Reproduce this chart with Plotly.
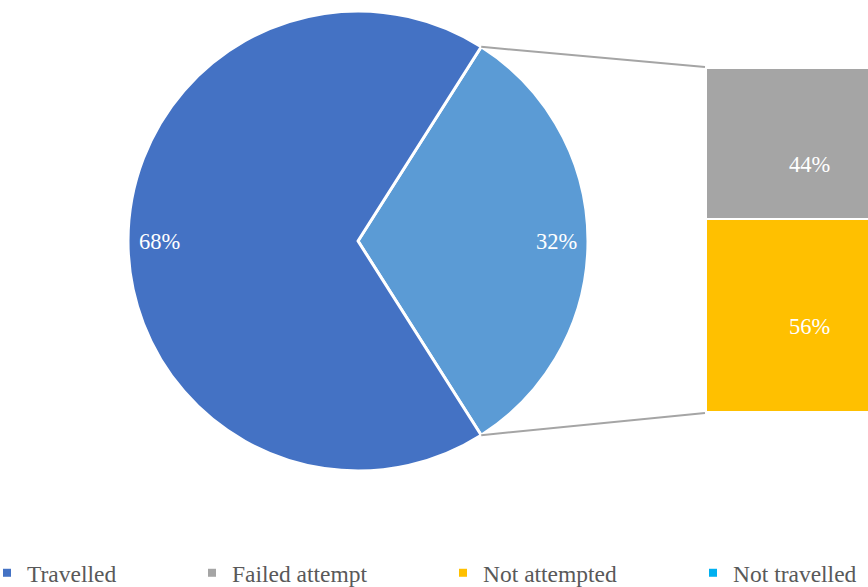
import math
import plotly.graph_objects as go

# ---- data ----
pie_labels = ["Travelled", "Other"]
pie_values = [68, 32]
bar_labels = ["Not attempted", "Failed attempt"]
bar_values = [56, 44]
legend_labels = ["Travelled", "Failed attempt", "Not attempted", "Not travelled"]

# ---- styles ----
pie_colors = ["#4472C4", "#5B9BD5"]
bar_colors = {"Not attempted": "#FFC000", "Failed attempt": "#A5A5A5"}
legend_colors = ["#4472C4", "#A5A5A5", "#FFC000", "#00B0F0"]
FONT = "Liberation Serif"
LABEL_SIZE = 22.5
LEGEND_SIZE = 23.5

W, H = 868, 587
PIE_CX, PIE_CY, PIE_R = 358, 241, 230          # pixel layout of the pie
BAR_X0, BAR_Y0, BAR_Y1 = 706, 68, 412            # pixel layout of the bar
BAR_LABEL_YSHIFT = [-11, -21]                    # label offsets (px) per bar segment
LEGEND_TEXT_X = [27, 232, 483, 733]              # legend text start positions (px)
LEGEND_Y = 573

def pxx(px):
    return px / W

def pxy(py):
    return (H - py) / H

pie_dom_x = [pxx(PIE_CX - PIE_R), pxx(PIE_CX + PIE_R)]
pie_dom_y = [pxy(PIE_CY + PIE_R), pxy(PIE_CY - PIE_R)]
bar_dom_x = [pxx(BAR_X0), 1.0]
bar_dom_y = [pxy(BAR_Y1), pxy(BAR_Y0)]

total = sum(pie_values)
other_idx = pie_labels.index("Other")
other_frac = pie_values[other_idx] / total
rotation = 90 - other_frac * 360 / 2   # centre the "Other" slice at 3 o'clock

order = [other_idx] + [i for i in range(len(pie_labels)) if i != other_idx]
labels_o = [pie_labels[i] for i in order]
values_o = [pie_values[i] for i in order]
colors_o = [pie_colors[i] for i in order]

fig = go.Figure()
fig.add_trace(go.Pie(
    labels=labels_o, values=values_o, sort=False, direction="clockwise",
    rotation=rotation, domain=dict(x=pie_dom_x, y=pie_dom_y),
    marker=dict(colors=colors_o, line=dict(color="white", width=3)),
    textinfo="none", hoverinfo="label+percent", showlegend=False,
))

bar_range = [-0.5, 0.281]
ysum = sum(bar_values)
annotations = []
base = 0
for lab, v, ys in zip(bar_labels, bar_values, BAR_LABEL_YSHIFT):
    fig.add_trace(go.Bar(
        x=[0], y=[v], width=1, name=lab,
        marker=dict(color=bar_colors[lab], line=dict(color="white", width=2)),
        showlegend=False, hoverinfo="name+y",
    ))
    annotations.append(dict(
        x=0, y=base + v / 2, xref="x", yref="y", yshift=ys,
        text=f"{round(v / ysum * 100)}%", showarrow=False,
        xanchor="center", yanchor="middle",
        font=dict(family=FONT, size=LABEL_SIZE, color="white"),
    ))
    base += v

# legend entries
for i, (lab, col) in enumerate(zip(legend_labels, legend_colors)):
    lg = "legend" if i == 0 else f"legend{i+1}"
    fig.add_trace(go.Scatter(
        x=[None], y=[None], mode="markers", name=lab,
        marker=dict(symbol="square", size=8, color=col),
        legend=lg, showlegend=True,
    ))

legend_common = dict(
    orientation="h", yanchor="middle", xanchor="left", y=pxy(LEGEND_Y),
    indentation=-15,
    font=dict(family=FONT, size=LEGEND_SIZE, color="#595959"),
    bgcolor="rgba(0,0,0,0)", borderwidth=0,
)
layout_legends = {}
for i, tx in enumerate(LEGEND_TEXT_X):
    key = "legend" if i == 0 else f"legend{i+1}"
    layout_legends[key] = dict(legend_common, x=pxx(tx - 25))

# pie labels
cum = 0
for lab, v in zip(labels_o, values_o):
    mid = rotation + (cum + v / 2) / total * 360
    cum += v
    rr = PIE_R * 0.865
    px = PIE_CX + rr * math.sin(math.radians(mid))
    py = PIE_CY - rr * math.cos(math.radians(mid))
    annotations.append(dict(
        x=pxx(px), y=pxy(py), xref="paper", yref="paper",
        xanchor="center", yanchor="middle",
        text=f"{round(v / total * 100)}%", showarrow=False,
        font=dict(family=FONT, size=LABEL_SIZE, color="white"),
    ))

# connector lines from "Other" slice edges to bar corners
shapes = []
edge_angles = [rotation, rotation + other_frac * 360]
bar_ends = [BAR_Y0 - 1, BAR_Y1 + 1]
for ang, by in zip(edge_angles, bar_ends):
    px = PIE_CX + PIE_R * math.sin(math.radians(ang))
    py = PIE_CY - PIE_R * math.cos(math.radians(ang))
    shapes.append(dict(
        type="line", xref="paper", yref="paper",
        x0=pxx(px), y0=pxy(py), x1=pxx(BAR_X0 - 1), y1=pxy(by),
        line=dict(color="#A5A5A5", width=2),
    ))

fig.update_layout(
    width=W, height=H, margin=dict(l=0, r=0, t=0, b=0, autoexpand=False),
    paper_bgcolor="white", plot_bgcolor="white",
    barmode="stack",
    xaxis=dict(domain=bar_dom_x, range=bar_range, visible=False, fixedrange=True),
    yaxis=dict(domain=bar_dom_y, range=[0, ysum], visible=False, fixedrange=True),
    annotations=annotations, shapes=shapes,
    **layout_legends,
)

fig.write_html(
    "out.html",
    config={"displayModeBar": False},
    post_script="document.body.style.margin='0';document.body.style.overflow='hidden';",
)
